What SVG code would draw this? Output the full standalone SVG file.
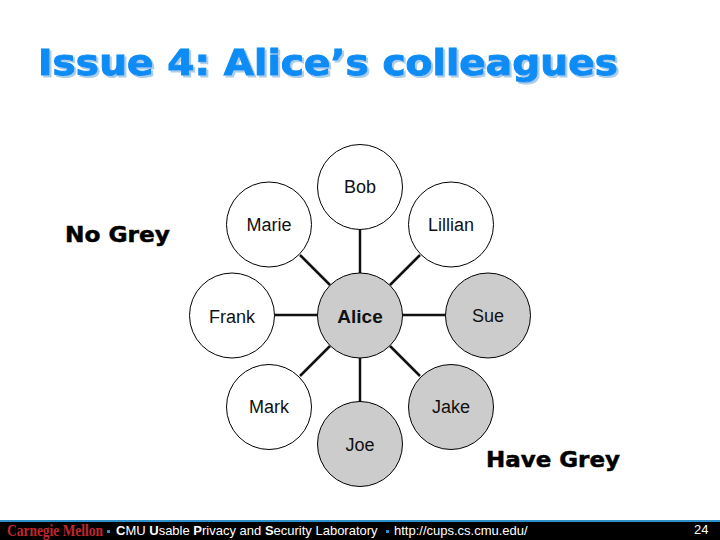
<svg xmlns="http://www.w3.org/2000/svg" width="720" height="540" viewBox="0 0 720 540">
<defs><filter id="sh" x="-5%" y="-20%" width="110%" height="140%"><feDropShadow dx="2" dy="2" stdDeviation="0.6" flood-color="#a9cfe8"/></filter></defs>
<style>
.n{stroke:#000;stroke-width:1}
.w{fill:#fff}.g{fill:#ccc}
.l{font:18px "Liberation Sans",Arial,sans-serif;text-anchor:middle;fill:#111}
.h{font:bold 22px "DejaVu Sans",Verdana,sans-serif;fill:#000;stroke:#000;stroke-width:.5}
.t{font:bold 36px "DejaVu Sans",Verdana,sans-serif;fill:#0a8cf5;stroke:#0a8cf5;stroke-width:1}
.f{font:13px "Liberation Sans",Arial,sans-serif;fill:#fff}
#connectors line{stroke:#111;stroke-width:2.5}
</style>
<rect width="720" height="540" fill="#fff"/>
<text class="t" x="38" y="75" textLength="580" lengthAdjust="spacingAndGlyphs" filter="url(#sh)">Issue 4: Alice’s colleagues</text>
<g id="connectors">
<line x1="360" y1="229" x2="360" y2="273"/>
<line x1="300" y1="255" x2="330" y2="285"/>
<line x1="420" y1="255" x2="390" y2="285"/>
<line x1="274" y1="315" x2="318" y2="315"/>
<line x1="402" y1="315" x2="446" y2="315"/>
<line x1="300" y1="376" x2="330" y2="346"/>
<line x1="420" y1="376" x2="390" y2="346"/>
<line x1="360" y1="358" x2="360" y2="402"/>
</g>
<g id="bob"><circle class="n w" cx="360" cy="187" r="42.5"/><text class="l" x="360" y="193">Bob</text></g>
<g id="marie"><circle class="n w" cx="269" cy="224.5" r="42.5"/><text class="l" x="269" y="231">Marie</text></g>
<g id="lillian"><circle class="n w" cx="451" cy="224.5" r="42.5"/><text class="l" x="451" y="231">Lillian</text></g>
<g id="frank"><circle class="n w" cx="232" cy="315.5" r="42.5"/><text class="l" x="232" y="323">Frank</text></g>
<g id="alice"><circle class="n g" cx="360" cy="315.5" r="42.5"/><text class="l" x="360" y="323" style="font-weight:bold;font-size:19px">Alice</text></g>
<g id="sue"><circle class="n g" cx="488" cy="315.5" r="42.5"/><text class="l" x="488" y="322">Sue</text></g>
<g id="mark"><circle class="n w" cx="269" cy="407" r="42.5"/><text class="l" x="269" y="413">Mark</text></g>
<g id="jake"><circle class="n g" cx="451" cy="407" r="42.5"/><text class="l" x="451" y="413">Jake</text></g>
<g id="joe"><circle class="n g" cx="360" cy="444" r="42.5"/><text class="l" x="360" y="451">Joe</text></g>
<text class="h" x="65" y="242" textLength="105" lengthAdjust="spacingAndGlyphs">No Grey</text>
<text class="h" x="486" y="467" textLength="134" lengthAdjust="spacingAndGlyphs">Have Grey</text>
<rect x="0" y="520" width="720" height="2" fill="#2f8fc8"/>
<rect x="0" y="522" width="720" height="18" fill="#000"/>
<text x="7" y="536" style="font:bold 17px 'Liberation Serif',serif;fill:#c0262f" textLength="96" lengthAdjust="spacingAndGlyphs">Carnegie Mellon</text>
<rect x="107" y="530" width="3" height="3" fill="#2f8fc8"/>
<text class="f" x="116" y="535"><tspan font-weight="bold">C</tspan>MU <tspan font-weight="bold">U</tspan>sable <tspan font-weight="bold">P</tspan>rivacy and <tspan font-weight="bold">S</tspan>ecurity Laboratory</text>
<rect x="386" y="530" width="3" height="3" fill="#2f8fc8"/>
<text class="f" x="394" y="535">http://cups.cs.cmu.edu/</text>
<text class="f" x="694" y="534">24</text>
</svg>
